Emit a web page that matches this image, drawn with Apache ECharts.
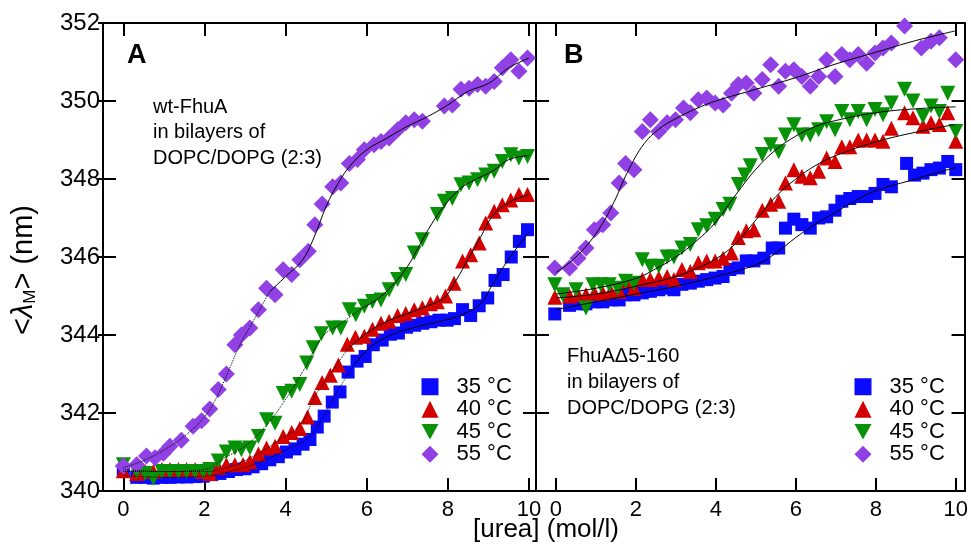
<!DOCTYPE html>
<html>
<head>
<meta charset="utf-8">
<script src="https://cdn.jsdelivr.net/npm/echarts@6/dist/echarts.min.js"></script>
<style>html,body{margin:0;padding:0;background:#fff}#c{width:971px;height:547px}</style>
</head>
<body>
<div id="c"></div>
<script>
// ---- tick labels ----
const xTicks = [0, 2, 4, 6, 8, 10];
const tempNames = ['35 °C', '40 °C', '45 °C', '55 °C'];

// ---- Panel A: wt-FhuA, data [urea, <lambda_M>] ----
const A35 = [[0,340.5],[0.33,340.35],[0.54,340.35],[0.74,340.33],[0.95,340.35],[1.15,340.35],[1.36,340.36],[1.56,340.36],[1.77,340.37],[1.97,340.38],[2.18,340.42],[2.38,340.45],[2.59,340.5],[2.79,340.55],[3.0,340.57],[3.2,340.62],[3.41,340.7],[3.61,340.8],[3.82,340.88],[4.02,341.0],[4.23,341.08],[4.43,341.2],[4.6,341.32],[4.78,341.64],[4.95,341.92],[5.15,342.28],[5.34,342.54],[5.54,343.05],[5.76,343.33],[5.96,343.45],[6.16,343.75],[6.38,343.87],[6.58,344.02],[6.78,344.05],[6.98,344.2],[7.18,344.25],[7.38,344.3],[7.58,344.34],[7.78,344.38],[7.98,344.38],[8.16,344.42],[8.36,344.65],[8.56,344.5],[8.77,344.75],[8.98,344.95],[9.16,345.4],[9.36,345.55],[9.56,346.0],[9.76,346.4],[9.96,346.7]];
const A40 = [[0,340.52],[0.33,340.45],[0.54,340.5],[0.74,340.5],[0.95,340.55],[1.15,340.55],[1.36,340.55],[1.56,340.55],[1.77,340.55],[1.97,340.5],[2.13,340.45],[2.34,340.6],[2.54,340.67],[2.75,340.67],[2.95,340.68],[3.12,340.75],[3.33,340.95],[3.53,341.1],[3.74,341.15],[3.94,341.4],[4.15,341.5],[4.35,341.6],[4.54,341.9],[4.72,342.4],[4.9,342.78],[5.1,342.97],[5.3,343.23],[5.52,343.76],[5.72,343.94],[5.94,343.97],[6.14,344.15],[6.35,344.3],[6.55,344.35],[6.76,344.5],[6.96,344.55],[7.17,344.65],[7.37,344.7],[7.57,344.8],[7.74,344.85],[7.94,345.0],[8.15,345.33],[8.36,345.9],[8.56,346.06],[8.77,346.36],[8.93,346.87],[9.14,347.17],[9.34,347.34],[9.55,347.46],[9.75,347.6],[9.96,347.6]];
const A45 = [[0,340.67],[0.33,340.5],[0.54,340.45],[0.74,340.33],[0.95,340.5],[1.15,340.5],[1.36,340.5],[1.56,340.5],[1.77,340.5],[1.97,340.5],[2.13,340.55],[2.34,340.77],[2.54,341.0],[2.75,341.1],[2.91,341.06],[3.12,341.1],[3.33,341.4],[3.53,341.83],[3.74,341.74],[3.94,342.5],[4.15,342.56],[4.35,342.73],[4.52,343.28],[4.68,343.67],[4.88,344.03],[5.16,344.18],[5.36,344.18],[5.57,344.65],[5.73,344.52],[5.94,344.74],[6.14,344.86],[6.35,344.9],[6.55,345.16],[6.76,345.42],[6.96,345.55],[7.17,346.1],[7.37,346.44],[7.74,347.09],[7.91,347.43],[8.11,347.5],[8.32,347.85],[8.52,347.9],[8.73,347.98],[8.93,348.1],[9.14,348.2],[9.34,348.45],[9.55,348.62],[9.75,348.54],[9.96,348.58]];
const A55 = [[0,340.64],[0.33,340.67],[0.57,340.9],[0.78,340.85],[0.99,340.97],[1.15,341.15],[1.43,341.3],[1.72,341.66],[1.93,341.8],[2.13,342.1],[2.34,342.6],[2.54,343.0],[2.75,343.75],[2.91,344.0],[3.12,344.18],[3.33,344.65],[3.53,345.2],[3.74,345.03],[3.94,345.67],[4.15,345.55],[4.35,345.93],[4.56,346.15],[4.72,346.83],[4.9,347.36],[5.16,347.8],[5.36,347.9],[5.57,348.4],[5.77,348.5],[5.94,348.75],[6.18,348.88],[6.35,348.96],[6.55,349.05],[6.76,349.26],[6.96,349.44],[7.17,349.52],[7.37,349.48],[7.91,349.87],[8.11,349.9],[8.32,350.3],[8.52,350.33],[8.73,350.42],[8.93,350.38],[9.14,350.5],[9.34,350.85],[9.55,351.06],[9.75,350.76],[9.96,351.1]];

// ---- Panel A fit curves: dotted part, solid part ----
const fitA35dot = [[0,340.4],[1,340.35],[2,340.38],[2.8,340.55],[3.5,340.8],[4.1,341.1],[4.6,341.4],[4.95,341.95],[5.3,342.6],[5.7,343.25]];
const fitA35sol = [[5.7,343.25],[6.1,343.7],[6.6,344.0],[7.2,344.2],[7.8,344.35],[8.3,344.5],[8.8,344.8],[9.1,345.3],[9.5,345.95],[10,346.65]];
const fitA40dot = [[0,340.5],[1,340.5],[2,340.5],[2.7,340.65],[3.3,340.95],[3.9,341.35],[4.4,341.75],[4.7,342.4],[5.0,342.85],[5.5,343.6]];
const fitA40sol = [[5.5,343.6],[6,344.05],[6.5,344.35],[7,344.55],[7.5,344.75],[7.9,344.95],[8.2,345.4],[8.5,345.95],[8.8,346.5],[9.1,347.05],[9.5,347.4],[10,347.6]];
const fitA45dot = [[0,340.55],[1,340.5],[2,340.55],[2.5,340.85],[3,341.15],[3.5,341.65],[4,342.35],[4.5,343.2],[4.9,343.95],[5.3,344.25],[5.9,344.7]];
const fitA45sol = [[5.9,344.7],[6.3,344.95],[6.7,345.35],[7.0,345.75],[7.3,346.3],[7.6,346.85],[7.9,347.3],[8.3,347.75],[8.7,348.0],[9.1,348.2],[9.5,348.5],[10,348.6]];
const fitA55dot = [[0,340.6],[0.5,340.78],[1,341.05],[1.5,341.4],[2,341.9],[2.3,342.4],[2.6,343.1],[2.9,343.8],[3.2,344.35],[3.6,345.1]];
const fitA55sol = [[3.6,345.1],[4,345.5],[4.4,345.9],[4.7,346.5],[5,347.3],[5.3,347.9],[5.6,348.35],[6,348.75],[6.5,349.05],[7,349.35],[7.5,349.6],[8,349.9],[8.5,350.25],[9,350.45],[9.5,350.85],[10,351.1]];

// ---- Panel B: FhuA delta5-160 ----
const B35 = [[-0.03,344.54],[0.34,344.76],[0.55,344.8],[0.75,344.8],[0.96,344.85],[1.17,344.85],[1.37,344.9],[1.58,344.9],[1.74,345.03],[1.95,345.03],[2.16,345.08],[2.36,345.12],[2.57,345.16],[2.78,345.2],[2.95,345.16],[3.15,345.3],[3.36,345.33],[3.56,345.38],[3.77,345.42],[3.98,345.46],[4.18,345.5],[4.35,345.68],[4.56,345.72],[4.76,345.9],[4.95,345.9],[5.2,345.97],[5.41,346.23],[5.57,346.23],[5.74,346.74],[5.95,346.97],[6.15,346.83],[6.36,346.74],[6.57,347.0],[6.77,347.03],[6.98,347.2],[7.15,347.43],[7.35,347.5],[7.56,347.55],[7.77,347.55],[7.98,347.63],[8.18,347.86],[8.39,347.8],[8.77,348.4],[8.97,348.1],[9.18,348.15],[9.38,348.24],[9.59,348.28],[9.8,348.45],[10.0,348.24]];
const B40 = [[-0.03,344.97],[0.34,345.0],[0.55,345.03],[0.75,345.03],[0.96,345.08],[1.17,345.08],[1.37,345.12],[1.58,345.12],[1.74,345.38],[1.95,345.2],[2.16,345.42],[2.36,345.42],[2.57,345.46],[2.78,345.5],[2.95,345.42],[3.15,345.68],[3.36,345.63],[3.56,345.85],[3.77,345.9],[3.98,345.9],[4.18,345.97],[4.39,346.1],[4.56,346.5],[4.76,346.67],[4.95,346.7],[5.16,347.2],[5.37,347.35],[5.57,347.43],[5.74,347.9],[5.95,348.24],[6.15,348.07],[6.36,348.03],[6.57,348.2],[6.77,348.54],[6.98,348.45],[7.15,348.83],[7.35,348.83],[7.56,349.0],[7.77,349.0],[7.98,349.0],[8.18,348.97],[8.39,349.3],[8.72,349.7],[8.93,349.57],[9.18,349.35],[9.38,349.44],[9.59,349.4],[9.8,349.7],[10.0,348.97]];
const B45 = [[-0.03,345.29],[0.17,345.03],[0.5,345.16],[0.75,344.69],[0.92,345.29],[1.12,345.29],[1.33,345.29],[1.54,345.2],[1.74,345.38],[1.95,345.33],[2.16,345.93],[2.36,345.76],[2.57,345.76],[2.78,346.0],[2.95,346.0],[3.15,346.23],[3.36,346.32],[3.56,346.7],[3.77,346.8],[3.98,346.97],[4.18,347.22],[4.35,347.35],[4.56,347.86],[4.72,348.1],[4.86,348.34],[5.16,348.63],[5.37,348.88],[5.57,348.7],[5.74,349.13],[5.95,349.39],[6.15,349.13],[6.36,349.13],[6.57,349.26],[6.77,349.47],[6.98,349.26],[7.15,349.73],[7.35,349.52],[7.56,349.73],[7.77,349.52],[7.98,349.78],[8.18,349.65],[8.39,349.95],[8.72,350.3],[8.93,350.0],[9.18,349.6],[9.38,349.87],[9.59,349.73],[9.8,350.2],[10.0,349.22]];
const B55 = [[-0.03,345.72],[0.34,345.72],[0.55,345.97],[0.75,346.23],[0.96,346.7],[1.17,346.83],[1.37,347.13],[1.58,347.9],[1.74,348.4],[1.95,348.24],[2.16,349.22],[2.36,349.52],[2.57,349.22],[2.78,349.44],[2.99,349.52],[3.19,349.82],[3.36,349.7],[3.56,350.03],[3.77,350.08],[3.98,349.95],[4.18,349.9],[4.39,350.2],[4.56,350.42],[4.76,350.46],[4.95,350.2],[5.16,350.55],[5.37,350.93],[5.57,350.38],[5.74,350.76],[5.95,350.8],[6.15,350.63],[6.36,350.38],[6.57,350.63],[6.77,351.06],[6.98,350.63],[7.15,351.19],[7.35,351.06],[7.56,351.19],[7.77,350.97],[7.98,351.23],[8.18,351.36],[8.39,351.49],[8.72,351.92],[9.14,351.36],[9.38,351.53],[9.59,351.62],[10.0,351.06]];

// ---- Panel B fit curves ----
const fitB35 = [[0,344.65],[1,344.85],[2,345.05],[3,345.25],[4,345.5],[5,345.8],[5.5,346.1],[6,346.5],[6.5,346.85],[7,347.15],[7.5,347.45],[8,347.7],[9,348.0],[10,348.3]];
const fitB40 = [[0,344.95],[1,345.05],[2,345.25],[3,345.5],[3.5,345.7],[4,345.95],[4.5,346.35],[5,346.95],[5.5,347.55],[6,348.0],[6.5,348.35],[7,348.6],[8,348.95],[9,349.2],[10,349.4]];
const fitB45 = [[0,345.05],[1,345.2],[2,345.45],[2.5,345.7],[3,346.0],[3.5,346.4],[4,346.9],[4.5,347.6],[5,348.25],[5.5,348.75],[6,349.1],[6.5,349.35],[7,349.5],[8,349.7],[9,349.8],[10,349.85]];
const fitB55 = [[0,345.6],[0.5,346.0],[1,346.6],[1.4,347.3],[1.8,348.2],[2.2,348.9],[2.6,349.3],[3,349.55],[3.5,349.8],[4,350.0],[5,350.3],[6,350.6],[7,350.95],[8,351.25],[9,351.55],[10,351.8]];

const FONT = '"Liberation Sans", Arial, sans-serif';
const colors = ['#0a0aff', '#d40000', '#079207', '#9040e4'];
const symbols = ['rect', 'triangle', 'path://M0,0L20,0L10,18Z', 'diamond'];
const sizes = [13, 15, 15, 17];

function xAx(grid, min, max, pos, labels) {
  return {
    type: 'value', gridIndex: grid, min: min, max: max, position: pos,
    axisLine: { show: true, onZero: false, lineStyle: { color: '#000', width: 2 } },
    axisTick: { show: true, inside: true, length: 13, customValues: xTicks, lineStyle: { color: '#000', width: 2 } },
    axisLabel: { show: labels, customValues: xTicks, fontSize: 22, color: '#000', fontFamily: FONT, margin: 8 },
    splitLine: { show: false }
  };
}
function yAx(grid, pos, inside, len, labels) {
  return {
    type: 'value', gridIndex: grid, min: 340, max: 352, interval: 2, position: pos,
    axisLine: { show: true, onZero: false, lineStyle: { color: '#000', width: 2 } },
    axisTick: { show: true, inside: inside, length: len, lineStyle: { color: '#000', width: 2 } },
    axisLabel: { show: labels, fontSize: 24, color: '#000', fontFamily: FONT, margin: 3 },
    splitLine: { show: false }
  };
}

const xAxis = [
  xAx(0, -0.5, 10.17, 'bottom', true),
  xAx(0, -0.5, 10.17, 'top', false),
  xAx(1, -0.5, 10.22, 'bottom', true),
  xAx(1, -0.5, 10.22, 'top', false)
];
const yAxis = [
  yAx(0, 'left', false, 5, true),
  yAx(0, 'left', true, 13, false),
  yAx(0, 'right', true, 13, false),
  yAx(1, 'left', true, 13, false),
  yAx(1, 'right', true, 13, false)
];

const series = [];
const panelData = [[A35, A40, A45, A55], [B35, B40, B45, B55]];
const fitsA = [[fitA35dot, fitA35sol], [fitA40dot, fitA40sol], [fitA45dot, fitA45sol], [fitA55dot, fitA55sol]];
const fitsB = [fitB35, fitB40, fitB45, fitB55];
const xIdx = [0, 2], yIdx = [0, 3];
for (let p = 0; p < 2; p++) {
  for (let t = 0; t < 4; t++) {
    series.push({
      name: tempNames[t], type: 'scatter', xAxisIndex: xIdx[p], yAxisIndex: yIdx[p],
      data: panelData[p][t], symbol: symbols[t], symbolSize: sizes[t],
      itemStyle: { color: colors[t], opacity: 1 }, z: 2, silent: true
    });
  }
}
function fitLine(name, data, p, type) {
  return { name: name, type: 'line', xAxisIndex: xIdx[p], yAxisIndex: yIdx[p], data: data,
    smooth: 0.4, showSymbol: false, symbol: 'none', z: 4, silent: true,
    lineStyle: { color: '#000', width: 1, type: type } };
}
for (let t = 0; t < 4; t++) {
  series.push(fitLine('fitA' + t + 'd', fitsA[t][0], 0, 'dotted'));
  series.push(fitLine('fitA' + t + 's', fitsA[t][1], 0, 'solid'));
  series.push(fitLine('fitB' + t, fitsB[t], 1, 'solid'));
}

function legendAt(left, top) {
  return {
    show: true, orient: 'vertical', left: left, top: top, padding: 0, itemGap: 0,
    itemWidth: 17, itemHeight: 17, data: tempNames, selectedMode: false,
    textStyle: { fontSize: 22, color: '#000', fontFamily: FONT, lineHeight: 22.5, padding: [0, 0, 0, 13] }
  };
}

const txt = (x, y, s, size, bold) => ({
  type: 'text', x: x, y: y, silent: true,
  style: { text: s, fontSize: size, fontFamily: FONT, fontWeight: bold ? 'bold' : 'normal', fill: '#000', verticalAlign: 'middle' }
});

const option = {
  animation: false,
  backgroundColor: '#fff',
  grid: [
    { left: 103, top: 23, width: 433, height: 468 },
    { left: 536, top: 23, width: 432, height: 468 }
  ],
  xAxis: xAxis,
  yAxis: yAxis,
  legend: [legendAt(421.5, 375.5), legendAt(854.5, 375.5)],
  series: series,
  graphic: [
    txt(127, 56, 'A', 27, true),
    txt(564, 56, 'B', 27, true),
    txt(153, 107, 'wt-FhuA', 20),
    txt(153, 132, 'in bilayers of', 20),
    txt(153, 158, 'DOPC/DOPG (2:3)', 20),
    txt(567, 356, 'FhuAΔ5-160', 20),
    txt(567, 382, 'in bilayers of', 20),
    txt(567, 408, 'DOPC/DOPG (2:3)', 20),
    { type: 'text', x: 546, y: 530, silent: true,
      style: { text: '[urea] (mol/l)', fontSize: 26, fontFamily: FONT, fill: '#000', align: 'center', verticalAlign: 'middle' } },
    { type: 'text', x: 24, y: 270, rotation: Math.PI / 2, silent: true,
      style: { text: '<{i|λ}{s|M}> (nm)', fontSize: 29, fontFamily: FONT, fill: '#000', align: 'center', verticalAlign: 'middle',
        rich: { i: { fontSize: 29, fontStyle: 'italic', fontFamily: FONT, fill: '#000' },
                s: { fontSize: 17, fontFamily: FONT, fill: '#000', padding: [13, 0, 0, 0] } } } }
  ]
};

const chart = echarts.init(document.getElementById('c'));
chart.setOption(option);
</script>
</body>
</html>
